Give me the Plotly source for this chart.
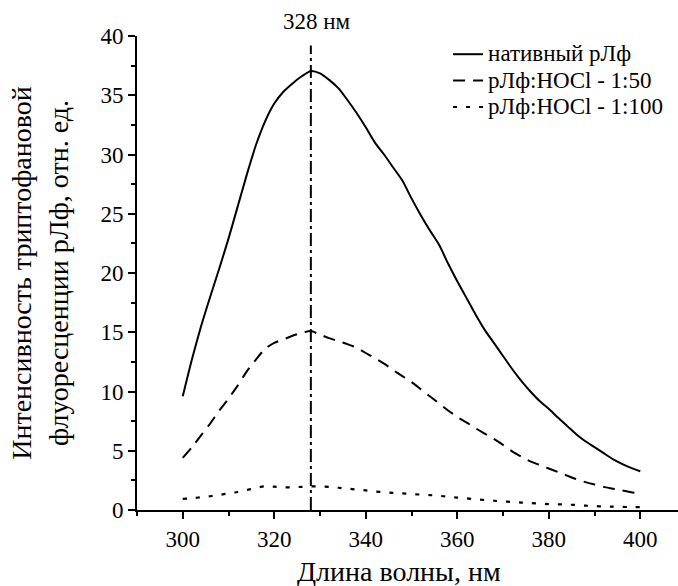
import plotly.graph_objects as go

wavelength = [300, 302, 304, 306, 308, 310, 312, 314, 316, 318, 320, 322, 324, 326, 328,
              330, 332, 334, 336, 338, 340, 342, 344, 346, 348, 350, 352, 354, 356, 358,
              360, 362, 364, 366, 368, 370, 372, 374, 376, 378, 380, 382, 384, 386, 388,
              390, 392, 394, 396, 398, 400]

native = [9.6, 12.7, 15.5, 18.0, 20.4, 22.9, 25.6, 28.3, 30.8, 32.8, 34.3, 35.3, 36.0, 36.6, 37.05,
          36.85, 36.3, 35.6, 34.6, 33.5, 32.3, 31.0, 30.0, 28.9, 27.8, 26.3, 24.9, 23.6, 22.4, 20.8,
          19.3, 17.9, 16.5, 15.2, 14.1, 13.0, 11.9, 10.9, 10.0, 9.2, 8.55, 7.8, 7.1, 6.4, 5.8,
          5.3, 4.8, 4.3, 3.9, 3.55, 3.27]

hocl_50 = [4.4, 5.3, 6.3, 7.3, 8.4, 9.4, 10.5, 11.7, 12.7, 13.6, 14.1, 14.4, 14.7, 14.95, 15.1,
           14.8, 14.5, 14.25, 14.0, 13.7, 13.25, 12.8, 12.35, 11.8, 11.3, 10.8, 10.2, 9.6, 9.0, 8.4,
           7.85, 7.4, 6.9, 6.45, 6.0, 5.5, 4.95, 4.5, 4.1, 3.8, 3.5, 3.2, 2.9, 2.6, 2.35,
           2.15, 1.95, 1.8, 1.65, 1.5, 1.4]

hocl_100 = [0.94, 1.0, 1.07, 1.16, 1.27, 1.4, 1.52, 1.68, 1.88, 2.0, 1.97, 1.92, 1.92, 1.95, 2.0,
            1.98, 1.95, 1.88, 1.8, 1.73, 1.65, 1.57, 1.5, 1.45, 1.4, 1.35, 1.3, 1.26, 1.2, 1.12,
            1.05, 0.98, 0.9, 0.84, 0.78, 0.72, 0.68, 0.63, 0.58, 0.54, 0.5, 0.48, 0.46, 0.42, 0.37,
            0.33, 0.3, 0.28, 0.26, 0.25, 0.24]

series_names = ["нативный рЛф", "рЛф:HOCl - 1:50", "рЛф:HOCl - 1:100"]
peak_wavelength = 328
peak_line_top = 39.2
x_ticks = [300, 320, 340, 360, 380, 400]
y_ticks = [0, 5, 10, 15, 20, 25, 30, 35, 40]

FONT = "Liberation Serif"


def legend_label(name):
    return f'<span style="font-size:23px">{name}</span>'


fig = go.Figure()
fig.add_trace(go.Scatter(x=wavelength, y=native, mode="lines", name=legend_label(series_names[0]),
                         line=dict(color="black", width=2, shape="spline", smoothing=0.6)))
fig.add_trace(go.Scatter(x=wavelength, y=hocl_50, mode="lines", name=legend_label(series_names[1]),
                         line=dict(color="black", width=2, dash="12px,8px", shape="spline", smoothing=0.6)))
fig.add_trace(go.Scatter(x=wavelength, y=hocl_100, mode="lines", name=legend_label(series_names[2]),
                         line=dict(color="black", width=2.2, dash="4px,9px", shape="spline", smoothing=0.6)))

fig.add_shape(type="line", xref="x", yref="y", x0=peak_wavelength, x1=peak_wavelength,
              y0=0, y1=peak_line_top,
              line=dict(color="black", width=2, dash="13px,4px,3px,4px"))

fig.add_annotation(x=peak_wavelength, xref="x", y=1.03, yref="paper",
                   text=f"{peak_wavelength} нм", showarrow=False, xshift=6,
                   yanchor="middle", font=dict(family=FONT, size=23, color="black"))

fig.add_annotation(x=0.485, xref="paper", y=-0.13, yref="paper",
                   text="Длина волны, нм", showarrow=False, yanchor="middle",
                   font=dict(family=FONT, size=28, color="black"))

fig.update_layout(
    width=678, height=586,
    margin=dict(l=137, r=0, t=36, b=76),
    paper_bgcolor="white", plot_bgcolor="white",
    font=dict(family=FONT, size=22, color="black"),
    showlegend=True,
    legend=dict(x=0.575, y=1.0, xanchor="left", yanchor="top",
                bgcolor="rgba(0,0,0,0)", font=dict(family=FONT, size=18, color="black"),
                tracegroupgap=0),
    xaxis=dict(range=[290, 408.25], tickvals=x_ticks, showgrid=False, zeroline=False,
               showline=True, linecolor="black", linewidth=2,
               ticks="outside", ticklen=7, tickwidth=2, tickcolor="black",
               minor=dict(dtick=10, tick0=290, ticks="outside", ticklen=4, tickwidth=2, tickcolor="black"),
               tickfont=dict(family=FONT, size=23, color="black")),
    yaxis=dict(range=[0, 40], tickvals=y_ticks, showgrid=False, zeroline=False,
               showline=True, linecolor="black", linewidth=2,
               ticks="outside", ticklen=7, tickwidth=2, tickcolor="black",
               minor=dict(dtick=2.5, tick0=0, ticks="outside", ticklen=4, tickwidth=2, tickcolor="black"),
               tickfont=dict(family=FONT, size=23, color="black"),
               title=dict(text="Интенсивность триптофановой<br>флуоресценции рЛф, отн. ед.",
                          font=dict(family=FONT, size=28, color="black"), standoff=24)),
)

fig.write_html("out.html")
